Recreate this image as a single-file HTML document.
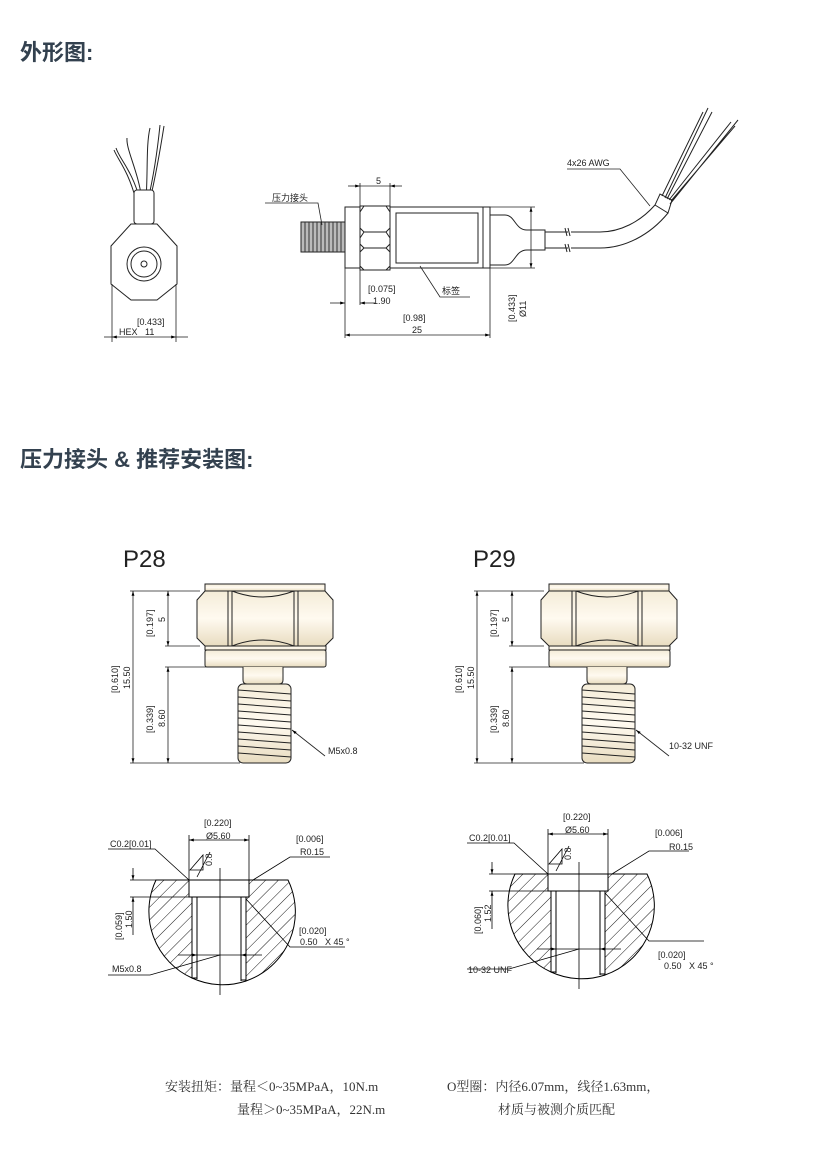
<!DOCTYPE html>
<html><head><meta charset="utf-8"><style>
html,body{margin:0;padding:0;background:#fff}
svg{display:block}
text{font-family:"Liberation Sans","Noto Sans CJK SC",sans-serif;fill:#222}
.t{font-size:9px}
.h{font-size:22px;font-weight:bold;fill:#33414f;font-family:"Liberation Sans","Noto Sans CJK SC",sans-serif}
.f{font-size:13px;fill:#333;font-family:"Liberation Serif","Noto Serif CJK SC",serif}
</style></head><body>
<svg width="840" height="1165" viewBox="0 0 840 1165" xmlns="http://www.w3.org/2000/svg">
<defs>
<marker id="a" viewBox="0 0 10 10" refX="10" refY="5" markerWidth="6" markerHeight="6" orient="auto-start-reverse"><path d="M0,2L10,5L0,8z" fill="#000"/></marker>
<pattern id="hatch" width="9" height="9" patternUnits="userSpaceOnUse" patternTransform="rotate(45)"><line x1="0" y1="0" x2="0" y2="9" stroke="#000" stroke-width="0.9"/></pattern>
<linearGradient id="metal" x1="0" y1="0" x2="0" y2="1"><stop offset="0" stop-color="#f4ecd8"/><stop offset="0.5" stop-color="#fffaf0"/><stop offset="1" stop-color="#e8dcc0"/></linearGradient>
<g id="fit" stroke="#222" stroke-width="1" fill="url(#metal)">
<rect x="205" y="584" width="120" height="7"/>
<path d="M205,591 L325,591 L333,600 L333,638 L325,646 L205,646 L197,638 L197,600 Z"/>
<path d="M228,591 L228,646 M232,591 L232,646 M294,591 L294,646 M298,591 L298,646" fill="none"/>
<path d="M232,591 Q263,603 294,591 M232,646 Q263,634 294,646" fill="none"/>
<rect x="205" y="646" width="121" height="4"/>
<rect x="205" y="650" width="121" height="17" rx="2"/>
<path d="M243,667 L243,680 Q243,684 247,684 L279,684 Q283,684 283,680 L283,667"/>
<rect x="238" y="684" width="53" height="79" rx="5"/>
<path d="M238,690 L291,694 M238,697 L291,701 M238,704 L291,708 M238,711 L291,715 M238,718 L291,722 M238,725 L291,729 M238,732 L291,736 M238,739 L291,743 M238,746 L291,750 M238,753 L291,757" fill="none"/>
<g fill="none" stroke-width="0.8">
<path d="M130,591 L200,591 M165,646 L200,646 M165,667 L240,667 M130,763 L240,763"/>
<line x1="133" y1="591" x2="133" y2="763" marker-start="url(#a)" marker-end="url(#a)"/>
<line x1="168" y1="591" x2="168" y2="646" marker-start="url(#a)" marker-end="url(#a)"/>
<line x1="168" y1="667" x2="168" y2="763" marker-start="url(#a)" marker-end="url(#a)"/>
<line x1="325" y1="756" x2="292" y2="730" marker-end="url(#a)"/>
</g>
</g>
<g id="sec" stroke="#000" stroke-width="1">
<path d="M156,880 L189,880 L189,897 L192,897 L192,978 A73,73 0 0 1 156,880 Z" fill="url(#hatch)"/>
<path d="M288,880 L249,880 L249,897 L246,897 L246,981 A73,73 0 0 0 288,880 Z" fill="url(#hatch)"/>
<rect x="192" y="897" width="5" height="81" fill="#fff"/>
<rect x="241" y="897" width="5" height="83" fill="#fff"/>
<path d="M197,900 L197,979 M241,900 L241,981 M189,880 L249,880 M189,897 L249,897 M192,978 A73,73 0 0 0 246,981" fill="none"/>
<line x1="220" y1="868" x2="220" y2="995" stroke-width="0.8"/>
<g fill="none" stroke-width="0.8">
<path d="M189,880 L189,835 M249,880 L249,835 M130,880 L189,880 M130,897 L192,897"/>
<line x1="189" y1="840" x2="249" y2="840" marker-start="url(#a)" marker-end="url(#a)"/>
<line x1="133" y1="868" x2="133" y2="880" marker-end="url(#a)"/>
<line x1="133" y1="935" x2="133" y2="897" marker-end="url(#a)"/>
<line x1="178" y1="955" x2="197" y2="955" marker-end="url(#a)"/>
<line x1="262" y1="955" x2="241" y2="955" marker-end="url(#a)"/>
<path d="M197,955 L241,955"/>
<path d="M108,849 L155,849 L189,880"/>
<path d="M330,857 L290,857 L253,880"/>
<path d="M345,947 L290,947 L246,899"/>
<path d="M108,975 L150,975 L220,955"/>
<path d="M190,870 L203,855 L203,870 Z M197,877 L210,852"/>
</g>
</g>
</defs>

<text x="20" y="60" class="h">外形图:</text>
<text x="20" y="467" class="h">压力接头 &amp; 推荐安装图:</text>

<!-- front view -->
<g stroke="#222" stroke-width="1" fill="none">
<path d="M140,200 C132,170 120,160 116,148 M142,200 C138,170 126,150 127,138 M146,200 C148,170 146,145 150,128 M148,200 C155,170 158,145 160,125"/>
<path d="M136,200 C128,170 118,160 114,150 M150,200 C157,170 161,145 164,126"/>
<rect x="134" y="190" width="20" height="34" rx="3" fill="#fff"/>
<path d="M111,246 L131,224 L157,224 L177,246 L177,284 L157,300 L131,300 L111,284 Z" fill="#fff"/>
<circle cx="144" cy="264" r="17"/><circle cx="144" cy="264" r="13"/><circle cx="144" cy="264" r="3"/>
<path d="M112,284 L112,342 M176,284 L176,342" stroke-width="0.8"/>
<line x1="104" y1="337" x2="112" y2="337" stroke-width="0.8"/>
<line x1="112" y1="337" x2="176" y2="337" stroke-width="0.8" marker-start="url(#a)" marker-end="url(#a)"/>
<line x1="176" y1="337" x2="188" y2="337" stroke-width="0.8"/>
</g>
<text x="137" y="325" class="t">[0.433]</text>
<text x="119" y="335" class="t">HEX&#160;&#160;&#160;11</text>

<!-- side view -->
<g stroke="#222" stroke-width="1" fill="#fff">
<rect x="301" y="222" width="44" height="30" fill="#bbb"/>
<path d="M305,222 L305,252 M309,222 L309,252 M313,222 L313,252 M317,222 L317,252 M321,222 L321,252 M325,222 L325,252 M329,222 L329,252 M333,222 L333,252 M337,222 L337,252 M341,222 L341,252" stroke="#333"/>
<rect x="345" y="207" width="15" height="61"/>
<path d="M360,206 L390,206 L390,270 L360,270 Z M364,206 L386,206 L390,212 L390,228 L386,232 L364,232 L360,228 L360,212 Z M364,232 L386,232 L390,238 L390,244 L386,248 L364,248 L360,244 L360,238 Z M364,248 L386,248 L390,252 L390,266 L386,270 L364,270 L360,266 L360,252 Z"/>
<rect x="390" y="207" width="93" height="61"/>
<rect x="396" y="213" width="82" height="50"/>
<rect x="483" y="207" width="7" height="61"/>
<path d="M490,215 L505,215 C515,215 515,230 527,230 L545,230 L545,250 L527,250 C515,250 515,265 505,265 L490,265 Z"/>
<path d="M545,232 L568,232 M571,232 L600,232 C620,232 640,222 655,205 M545,248 L568,248 M571,248 L600,248 C625,248 650,235 668,213" fill="none"/>
<path d="M565,228 L567,236 M568,228 L570,236 M565,244 L567,252 M568,244 L570,252" fill="none"/>
<path d="M655,205 L668,213 L672,200 L660,194 Z"/>
<path d="M662,196 L703,112 M665,198 L708,108 M667,199 L712,112 M669,200 L731,122 M671,201 L735,126 M670,204 L738,120" fill="none"/>
<g fill="none" stroke-width="0.8">
<path d="M360,206 L360,183 M390,206 L390,183 M345,268 L345,338 M360,270 L360,305 M490,268 L490,338 M490,207 L535,207 M490,268 L535,268"/>
<line x1="348" y1="186" x2="360" y2="186" marker-end="url(#a)"/><line x1="402" y1="186" x2="390" y2="186" marker-end="url(#a)"/><path d="M360,186 L390,186"/>
<line x1="330" y1="303" x2="345" y2="303" marker-end="url(#a)"/><line x1="375" y1="303" x2="360" y2="303" marker-end="url(#a)"/>
<line x1="345" y1="335" x2="490" y2="335" marker-start="url(#a)" marker-end="url(#a)"/>
<line x1="531" y1="207" x2="531" y2="268" marker-start="url(#a)" marker-end="url(#a)"/>
<path d="M265,203 L318,203 L322,225"/>
<path d="M470,297 L440,297 L420,266"/>
<path d="M567,169 L620,169 L650,206"/>
</g>
</g>
<text x="376" y="184" class="t">5</text>
<text x="272" y="201" class="t">压力接头</text>
<text x="368" y="292" class="t">[0.075]</text>
<text x="373" y="304" class="t">1.90</text>
<text x="442" y="294" class="t">标签</text>
<text x="403" y="321" class="t">[0.98]</text>
<text x="412" y="333" class="t">25</text>
<text transform="translate(515,322) rotate(-90)" class="t">[0.433]</text>
<text transform="translate(526,317) rotate(-90)" class="t">Ø11</text>
<text x="567" y="166" class="t">4x26 AWG</text>

<text x="123" y="567" font-size="24">P28</text>
<text x="473" y="567" font-size="24">P29</text>
<use href="#fit"/>
<use href="#fit" transform="translate(344,0)"/>
<g class="t">
<text transform="translate(153,637) rotate(-90)">[0.197]</text><text transform="translate(165,622) rotate(-90)">5</text>
<text transform="translate(118,693) rotate(-90)">[0.610]</text><text transform="translate(130,689) rotate(-90)">15.50</text>
<text transform="translate(153,733) rotate(-90)">[0.339]</text><text transform="translate(165,727) rotate(-90)">8.60</text>
<text x="328" y="754">M5x0.8</text>
<text transform="translate(497,637) rotate(-90)">[0.197]</text><text transform="translate(509,622) rotate(-90)">5</text>
<text transform="translate(462,693) rotate(-90)">[0.610]</text><text transform="translate(474,689) rotate(-90)">15.50</text>
<text transform="translate(497,733) rotate(-90)">[0.339]</text><text transform="translate(509,727) rotate(-90)">8.60</text>
<text x="669" y="749">10-32 UNF</text>
</g>

<use href="#sec"/>
<use href="#sec" transform="translate(359,-6)"/>
<g class="t">
<text x="204" y="826">[0.220]</text><text x="206" y="839">Ø5.60</text>
<text x="110" y="847">C0.2[0.01]</text>
<text x="296" y="842">[0.006]</text><text x="300" y="855">R0.15</text>
<text transform="translate(212,866) rotate(-90)">0.8</text>
<text transform="translate(122,940) rotate(-90)">[0.059]</text><text transform="translate(132,928) rotate(-90)">1.50</text>
<text x="299" y="934">[0.020]</text><text x="300" y="945">0.50&#160;&#160;&#160;X 45 °</text>
<text x="112" y="972">M5x0.8</text>

<text x="563" y="820">[0.220]</text><text x="565" y="833">Ø5.60</text>
<text x="469" y="841">C0.2[0.01]</text>
<text x="655" y="836">[0.006]</text><text x="669" y="850">R0.15</text>
<text transform="translate(571,860) rotate(-90)">0.8</text>
<text transform="translate(481,934) rotate(-90)">[0.060]</text><text transform="translate(491,922) rotate(-90)">1.52</text>
<text x="658" y="958">[0.020]</text><text x="664" y="969">0.50&#160;&#160;&#160;X 45 °</text>
<text x="468" y="973">10-32 UNF</text>
</g>

<text x="165" y="1091" class="f">安装扭矩：量程＜0~35MPaA，10N.m</text>
<text x="237" y="1114" class="f">量程＞0~35MPaA，22N.m</text>
<text x="447" y="1091" class="f">O型圈：内径6.07mm，线径1.63mm，</text>
<text x="498" y="1114" class="f">材质与被测介质匹配</text>
</svg>
</body></html>
